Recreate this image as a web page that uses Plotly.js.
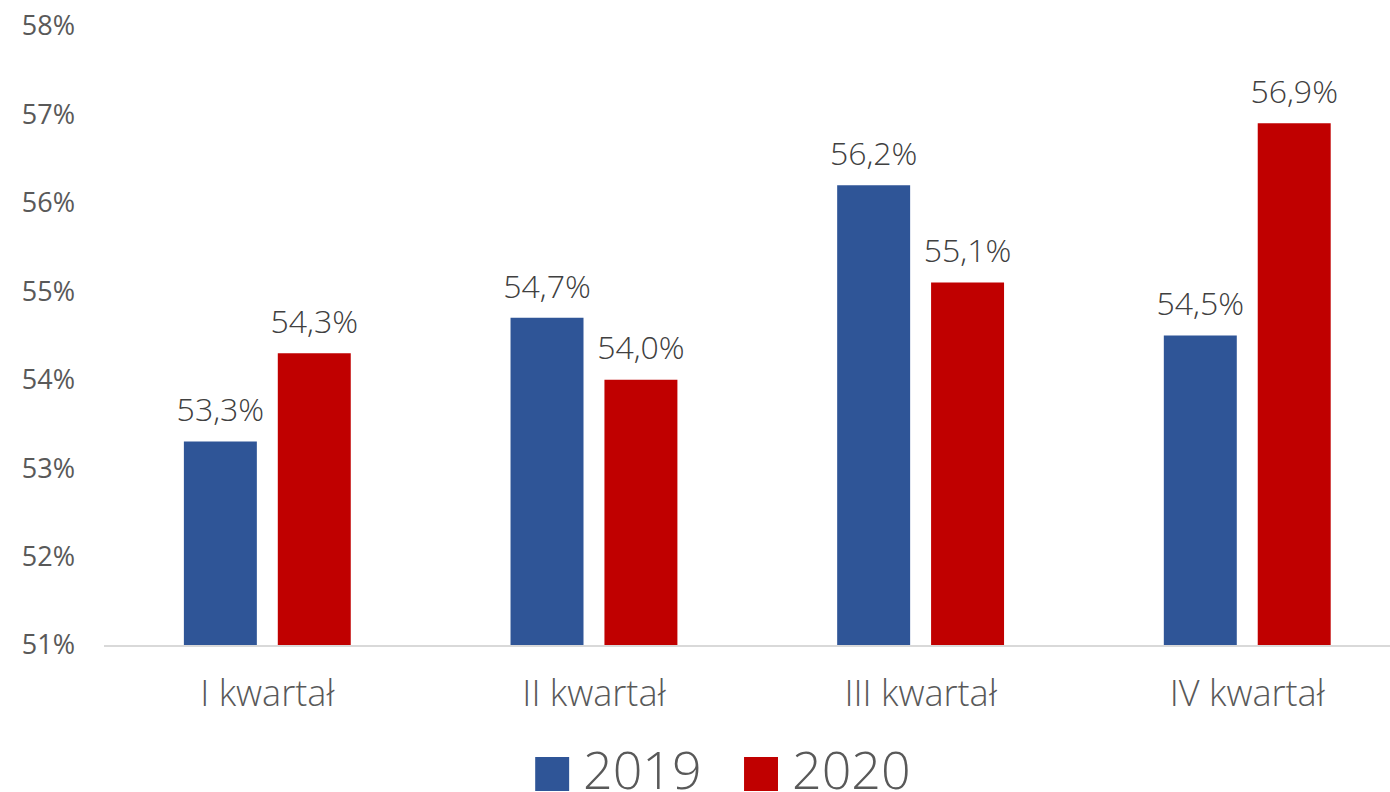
<!DOCTYPE html>
<html>
<head>
<meta charset="utf-8">
<script src="https://cdn.plot.ly/plotly-3.0.1.min.js"></script>
<style>html,body{margin:0;padding:0;background:#fff}#chart{width:1390px;height:792px}</style>
</head>
<body>
<div id="chart"></div>
<script>
const categories = ["I kwartał", "II kwartał", "III kwartał", "IV kwartał"];
const seriesNames = ["2019", "2020"];
const values2019 = [53.3, 54.7, 56.2, 54.5];
const values2020 = [54.3, 54.0, 55.1, 56.9];
const yTickValues = [51, 52, 53, 54, 55, 56, 57, 58];
const colors = ["#2F5597", "#C00000"];

const labelFont = {family: "Open Sans", size: 32, color: "#404040", weight: 300};
const series = [values2019, values2020];

const bars = series.map((vals, i) => ({
  type: "bar",
  name: seriesNames[i],
  x: categories,
  y: vals,
  offsetgroup: "g" + i,
  marker: {color: colors[i]},
  showlegend: false,
  hoverinfo: "none"
}));

// value labels: text-only scatter traces aligned with the grouped bars
const labels = series.map((vals, i) => ({
  type: "scatter",
  mode: "markers+text",
  x: categories,
  y: vals,
  offsetgroup: "g" + i,
  marker: {size: 18, opacity: 0, color: colors[i]},
  text: vals.map(v => v.toFixed(1).replace(".", ",") + "%"),
  textposition: "top center",
  textfont: labelFont,
  cliponaxis: false,
  showlegend: false,
  hoverinfo: "none"
}));

// custom legend (large squares like the original)
const lx = [0.3353, 0.4977];
const shapes = seriesNames.map((n, i) => ({
  type: "rect", xref: "paper", yref: "paper",
  x0: lx[i], x1: lx[i] + 0.0264, y0: -0.2359, y1: -0.1809,
  fillcolor: colors[i], line: {width: 0}
}));
const annotations = seriesNames.map((n, i) => ({
  xref: "paper", yref: "paper", x: lx[i] + 0.0355, y: -0.200,
  xanchor: "left", yanchor: "middle", showarrow: false,
  text: n, font: {family: "Open Sans", size: 52, color: "#595959", weight: 300}
}));

const layout = {
  width: 1390, height: 792,
  margin: {l: 104, r: 0, t: 26, b: 147, pad: 0},
  paper_bgcolor: "#ffffff", plot_bgcolor: "#ffffff",
  separators: ", ",
  barmode: "group",
  bargap: 0.425,
  bargroupgap: 0.223,
  scattermode: "group",
  scattergap: 0.425,
  showlegend: false,
  xaxis: {
    type: "category",
    range: [-0.5, 3.437],
    showline: true, linecolor: "#d9d9d9", linewidth: 2,
    showgrid: false, zeroline: false, ticks: "",
    ticklabelstandoff: 16,
    tickfont: {family: "Open Sans", size: 36, color: "#595959", weight: 300},
    fixedrange: true
  },
  yaxis: {
    range: [51, 58],
    tickvals: yTickValues,
    ticktext: yTickValues.map(v => v + "%"),
    showgrid: false, zeroline: false, showline: false, ticks: "",
    ticklabelstandoff: 28,
    tickfont: {family: "Open Sans", size: 27, color: "#595959"},
    fixedrange: true
  },
  shapes: shapes,
  annotations: annotations
};

Plotly.newPlot("chart", bars.concat(labels), layout, {displayModeBar: false, staticPlot: true});
</script>
</body>
</html>
